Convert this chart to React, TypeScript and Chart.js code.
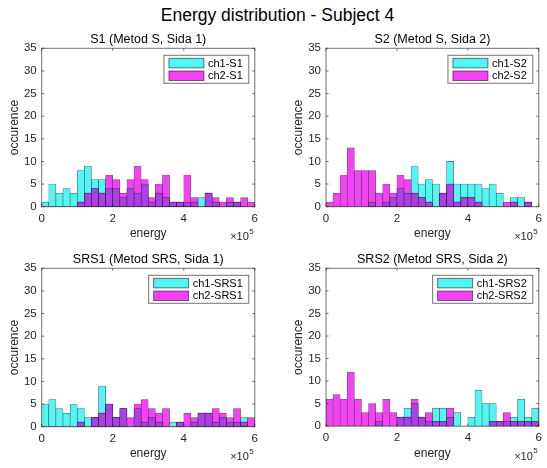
import React, { useEffect, useRef } from "react";
import { Chart, registerables } from "chart.js";

Chart.register(...registerables);

const FONT = "'Liberation Sans', Arial, Helvetica, sans-serif";

// bin centres (energy), bins of width 0.2e5 from 0 to 6e5
const BIN_CENTERS = [
  10000, 30000, 50000, 70000, 90000, 110000, 130000, 150000, 170000, 190000,
  210000, 230000, 250000, 270000, 290000, 310000, 330000, 350000, 370000, 390000,
  410000, 430000, 450000, 470000, 490000, 510000, 530000, 550000, 570000, 590000,
];
const X_TICKS = [0, 200000, 400000, 600000];
const Y_TICKS = [0, 5, 10, 15, 20, 25, 30, 35];

const S1_CH1 = [1, 5, 3, 4, 3, 8, 9, 6, 6, 4, 4, 2, 4, 3, 5, 1, 3, 2, 1, 1, 1, 1, 2, 3, 1, 0, 1, 1, 0, 0];
const S1_CH2 = [0, 0, 0, 0, 0, 1, 3, 4, 3, 7, 6, 3, 6, 9, 6, 2, 5, 7, 1, 1, 7, 2, 0, 3, 2, 1, 2, 1, 2, 1];
const S2_CH1 = [0, 0, 0, 0, 0, 0, 1, 0, 1, 2, 4, 3, 9, 5, 6, 5, 3, 10, 5, 5, 5, 5, 4, 5, 3, 0, 2, 2, 1, 0];
const S2_CH2 = [1, 3, 7, 13, 8, 8, 8, 3, 5, 3, 7, 6, 3, 2, 1, 0, 3, 5, 1, 2, 2, 1, 0, 0, 0, 1, 1, 0, 1, 0];
const SRS1_CH1 = [5, 6, 4, 3, 5, 4, 2, 2, 9, 5, 2, 4, 0, 4, 1, 2, 1, 0, 1, 1, 0, 1, 3, 3, 1, 2, 1, 1, 2, 0];
const SRS1_CH2 = [0, 0, 0, 0, 0, 1, 0, 2, 3, 5, 2, 4, 2, 5, 6, 4, 3, 4, 0, 1, 3, 2, 3, 3, 4, 3, 2, 4, 1, 2];
const SRS2_CH1 = [0, 0, 0, 0, 0, 0, 0, 1, 0, 0, 2, 4, 5, 2, 1, 4, 4, 2, 3, 0, 2, 8, 5, 5, 1, 1, 2, 6, 2, 4];
const SRS2_CH2 = [6, 7, 6, 12, 6, 3, 5, 3, 6, 3, 2, 2, 6, 2, 3, 1, 1, 4, 0, 0, 0, 0, 0, 1, 1, 3, 1, 1, 1, 1];

const CYAN = "rgb(82,244,244)";
const MAGENTA = "rgb(243,66,243)";
const PURPLE = "rgb(170,64,230)";
const EDGE = "rgba(20,20,20,0.7)";
const AXIS = "rgba(38,38,38,0.65)";
const TXT = "#262626";

type Area = { l: number; t: number; r: number; b: number };
type PanelProps = {
  title: string;
  ch1: number[];
  ch2: number[];
  label1: string;
  label2: string;
  area: Area;
};

function Panel({ title, ch1, ch2, label1, label2, area }: PanelProps) {
  const ref = useRef<HTMLCanvasElement>(null);
  const left = Math.max(0, Math.floor(area.l - 42));
  const top = Math.floor(area.t - 24);
  const width = Math.min(547, Math.ceil(area.r + 6)) - left;
  const height = Math.ceil(area.b + 40) - top;
  const yAxisW = area.l - left;
  const padTop = area.t - top;
  const padRight = width - (area.r - left);
  const xAxisH = height - (area.b - top);

  useEffect(() => {
    if (!ref.current) return;
    const overlap = ch1.map((v, i) => Math.min(v, ch2[i]));
    const pts = (arr: number[]) =>
      arr.map((v, i) => ({ x: BIN_CENTERS[i], y: v > 0 ? v : null }));
    const common = {
      borderColor: EDGE,
      borderWidth: 0.6,
      borderSkipped: false as const,
      grouped: false,
      barPercentage: 1,
      categoryPercentage: 1,
    };
    const decor = {
      id: "decor",
      afterDatasetsDraw(chart: any) {
        const { ctx, chartArea: ca, scales } = chart;
        ctx.save();
        // box
        ctx.strokeStyle = AXIS;
        ctx.lineWidth = 1;
        ctx.strokeRect(ca.left, ca.top, ca.right - ca.left, ca.bottom - ca.top);
        // inward ticks
        const tl = 2.5;
        ctx.beginPath();
        scales.y.ticks.forEach((t: any) => {
          const py = scales.y.getPixelForValue(t.value);
          ctx.moveTo(ca.left, py);
          ctx.lineTo(ca.left + tl, py);
          ctx.moveTo(ca.right, py);
          ctx.lineTo(ca.right - tl, py);
        });
        scales.x.ticks.forEach((t: any) => {
          const px = scales.x.getPixelForValue(t.value);
          ctx.moveTo(px, ca.bottom);
          ctx.lineTo(px, ca.bottom - tl);
          ctx.moveTo(px, ca.top);
          ctx.lineTo(px, ca.top + tl);
        });
        ctx.stroke();
        // legend
        ctx.font = `11px ${FONT}`;
        const tw = Math.max(ctx.measureText(label1).width, ctx.measureText(label2).width);
        const lw = 5 + 35 + 4 + tw + 6;
        const lr = ca.right - 6;
        const lt = ca.top + 7;
        const ll = lr - lw;
        const lh = 28;
        ctx.fillStyle = "#fff";
        ctx.fillRect(ll, lt, lw, lh);
        ctx.strokeStyle = AXIS;
        ctx.strokeRect(ll, lt, lw, lh);
        const rows = [
          { c: CYAN, t: label1, cy: lt + 7.8 },
          { c: MAGENTA, t: label2, cy: lt + 20.5 },
        ];
        rows.forEach((r) => {
          ctx.fillStyle = r.c;
          ctx.fillRect(ll + 5, r.cy - 4.8, 35, 9.6);
          ctx.strokeStyle = EDGE;
          ctx.lineWidth = 0.8;
          ctx.strokeRect(ll + 5, r.cy - 4.8, 35, 9.6);
          ctx.fillStyle = "#000";
          ctx.textAlign = "left";
          ctx.textBaseline = "middle";
          ctx.fillText(r.t, ll + 5 + 35 + 4, r.cy + 0.5);
        });
        ctx.restore();
      },
      afterDraw(chart: any) {
        const { ctx, chartArea: ca } = chart;
        ctx.save();
        ctx.fillStyle = "#000";
        ctx.textAlign = "center";
        ctx.textBaseline = "middle";
        ctx.font = `12.5px ${FONT}`;
        ctx.fillText(title, (ca.left + ca.right) / 2, ca.top - 9);
        // exponent label
        ctx.fillStyle = TXT;
        ctx.font = `11px ${FONT}`;
        ctx.textAlign = "right";
        ctx.fillText("\u00d710", ca.right - 6, ca.bottom + 30.5);
        ctx.font = `8px ${FONT}`;
        ctx.textAlign = "left";
        ctx.fillText("5", ca.right - 5.5, ca.bottom + 25);
        ctx.restore();
      },
    };

    const chart = new Chart(ref.current, {
      type: "bar",
      data: {
        datasets: [
          { label: label1, data: pts(ch1), backgroundColor: CYAN, order: 3, ...common },
          { label: label2, data: pts(ch2), backgroundColor: MAGENTA, order: 2, ...common },
          { label: "both", data: pts(overlap), backgroundColor: PURPLE, order: 1, ...common },
        ] as any,
      },
      options: {
        animation: false,
        responsive: false,
        devicePixelRatio: 1,
        layout: { padding: { left: 0, top: padTop, right: padRight, bottom: 0 } },
        plugins: {
          legend: { display: false },
          tooltip: { enabled: false },
          title: { display: false },
        },
        scales: {
          x: {
            type: "linear",
            min: 0,
            max: 600000,
            offset: false,
            afterFit: (s: any) => {
              s.height = xAxisH;
            },
            afterBuildTicks: (s: any) => {
              s.ticks = X_TICKS.map((v) => ({ value: v }));
            },
            ticks: {
              callback: (v: any) => String(Number(v) / 100000),
              font: { family: FONT, size: 11.5 },
              color: TXT,
              padding: 5,
              maxRotation: 0,
              autoSkip: false,
            },
            grid: { display: false, drawTicks: false },
            border: { display: false },
            title: {
              display: true,
              text: "energy",
              font: { family: FONT, size: 12 },
              color: TXT,
              padding: { top: 0, bottom: xAxisH - 27 - 7.2 },
            },
          },
          y: {
            min: 0,
            max: 35,
            afterFit: (s: any) => {
              s.width = yAxisW;
            },
            afterBuildTicks: (s: any) => {
              s.ticks = Y_TICKS.map((v) => ({ value: v }));
            },
            ticks: {
              font: { family: FONT, size: 11.5 },
              color: TXT,
              padding: 5,
            },
            grid: { display: false, drawTicks: false },
            border: { display: false },
            title: {
              display: true,
              text: "occurence",
              font: { family: FONT, size: 12 },
              color: TXT,
              padding: { top: 7, bottom: 0 },
            },
          },
        },
      } as any,
      plugins: [decor],
    });
    return () => chart.destroy();
  }, []);

  return (
    <canvas
      ref={ref}
      width={width}
      height={height}
      style={{ position: "absolute", left, top, width, height }}
    />
  );
}

export default function App() {
  return (
    <div
      style={{
        position: "fixed",
        left: 0,
        top: 0,
        width: 547,
        height: 468,
        background: "#fff",
        overflow: "hidden",
      }}
    >
      <div
        style={{
          position: "absolute",
          left: 0,
          top: 5,
          width: 555,
          textAlign: "center",
          font: `17.5px ${FONT}`,
          lineHeight: "20px",
          color: "#000",
        }}
      >
        Energy distribution - Subject 4
      </div>
      <Panel
        title="S1 (Metod S, Sida 1)"
        ch1={S1_CH1}
        ch2={S1_CH2}
        label1="ch1-S1"
        label2="ch2-S1"
        area={{ l: 41.7, t: 48.3, r: 256.7, b: 206.7 }}
      />
      <Panel
        title="S2 (Metod S, Sida 2)"
        ch1={S2_CH1}
        ch2={S2_CH2}
        label1="ch1-S2"
        label2="ch2-S2"
        area={{ l: 326, t: 48.3, r: 540.7, b: 206.7 }}
      />
      <Panel
        title="SRS1 (Metod SRS, Sida 1)"
        ch1={SRS1_CH1}
        ch2={SRS1_CH2}
        label1="ch1-SRS1"
        label2="ch2-SRS1"
        area={{ l: 41.7, t: 268.3, r: 256.7, b: 426.7 }}
      />
      <Panel
        title="SRS2 (Metod SRS, Sida 2)"
        ch1={SRS2_CH1}
        ch2={SRS2_CH2}
        label1="ch1-SRS2"
        label2="ch2-SRS2"
        area={{ l: 326, t: 268.3, r: 540.7, b: 426.2 }}
      />
    </div>
  );
}
